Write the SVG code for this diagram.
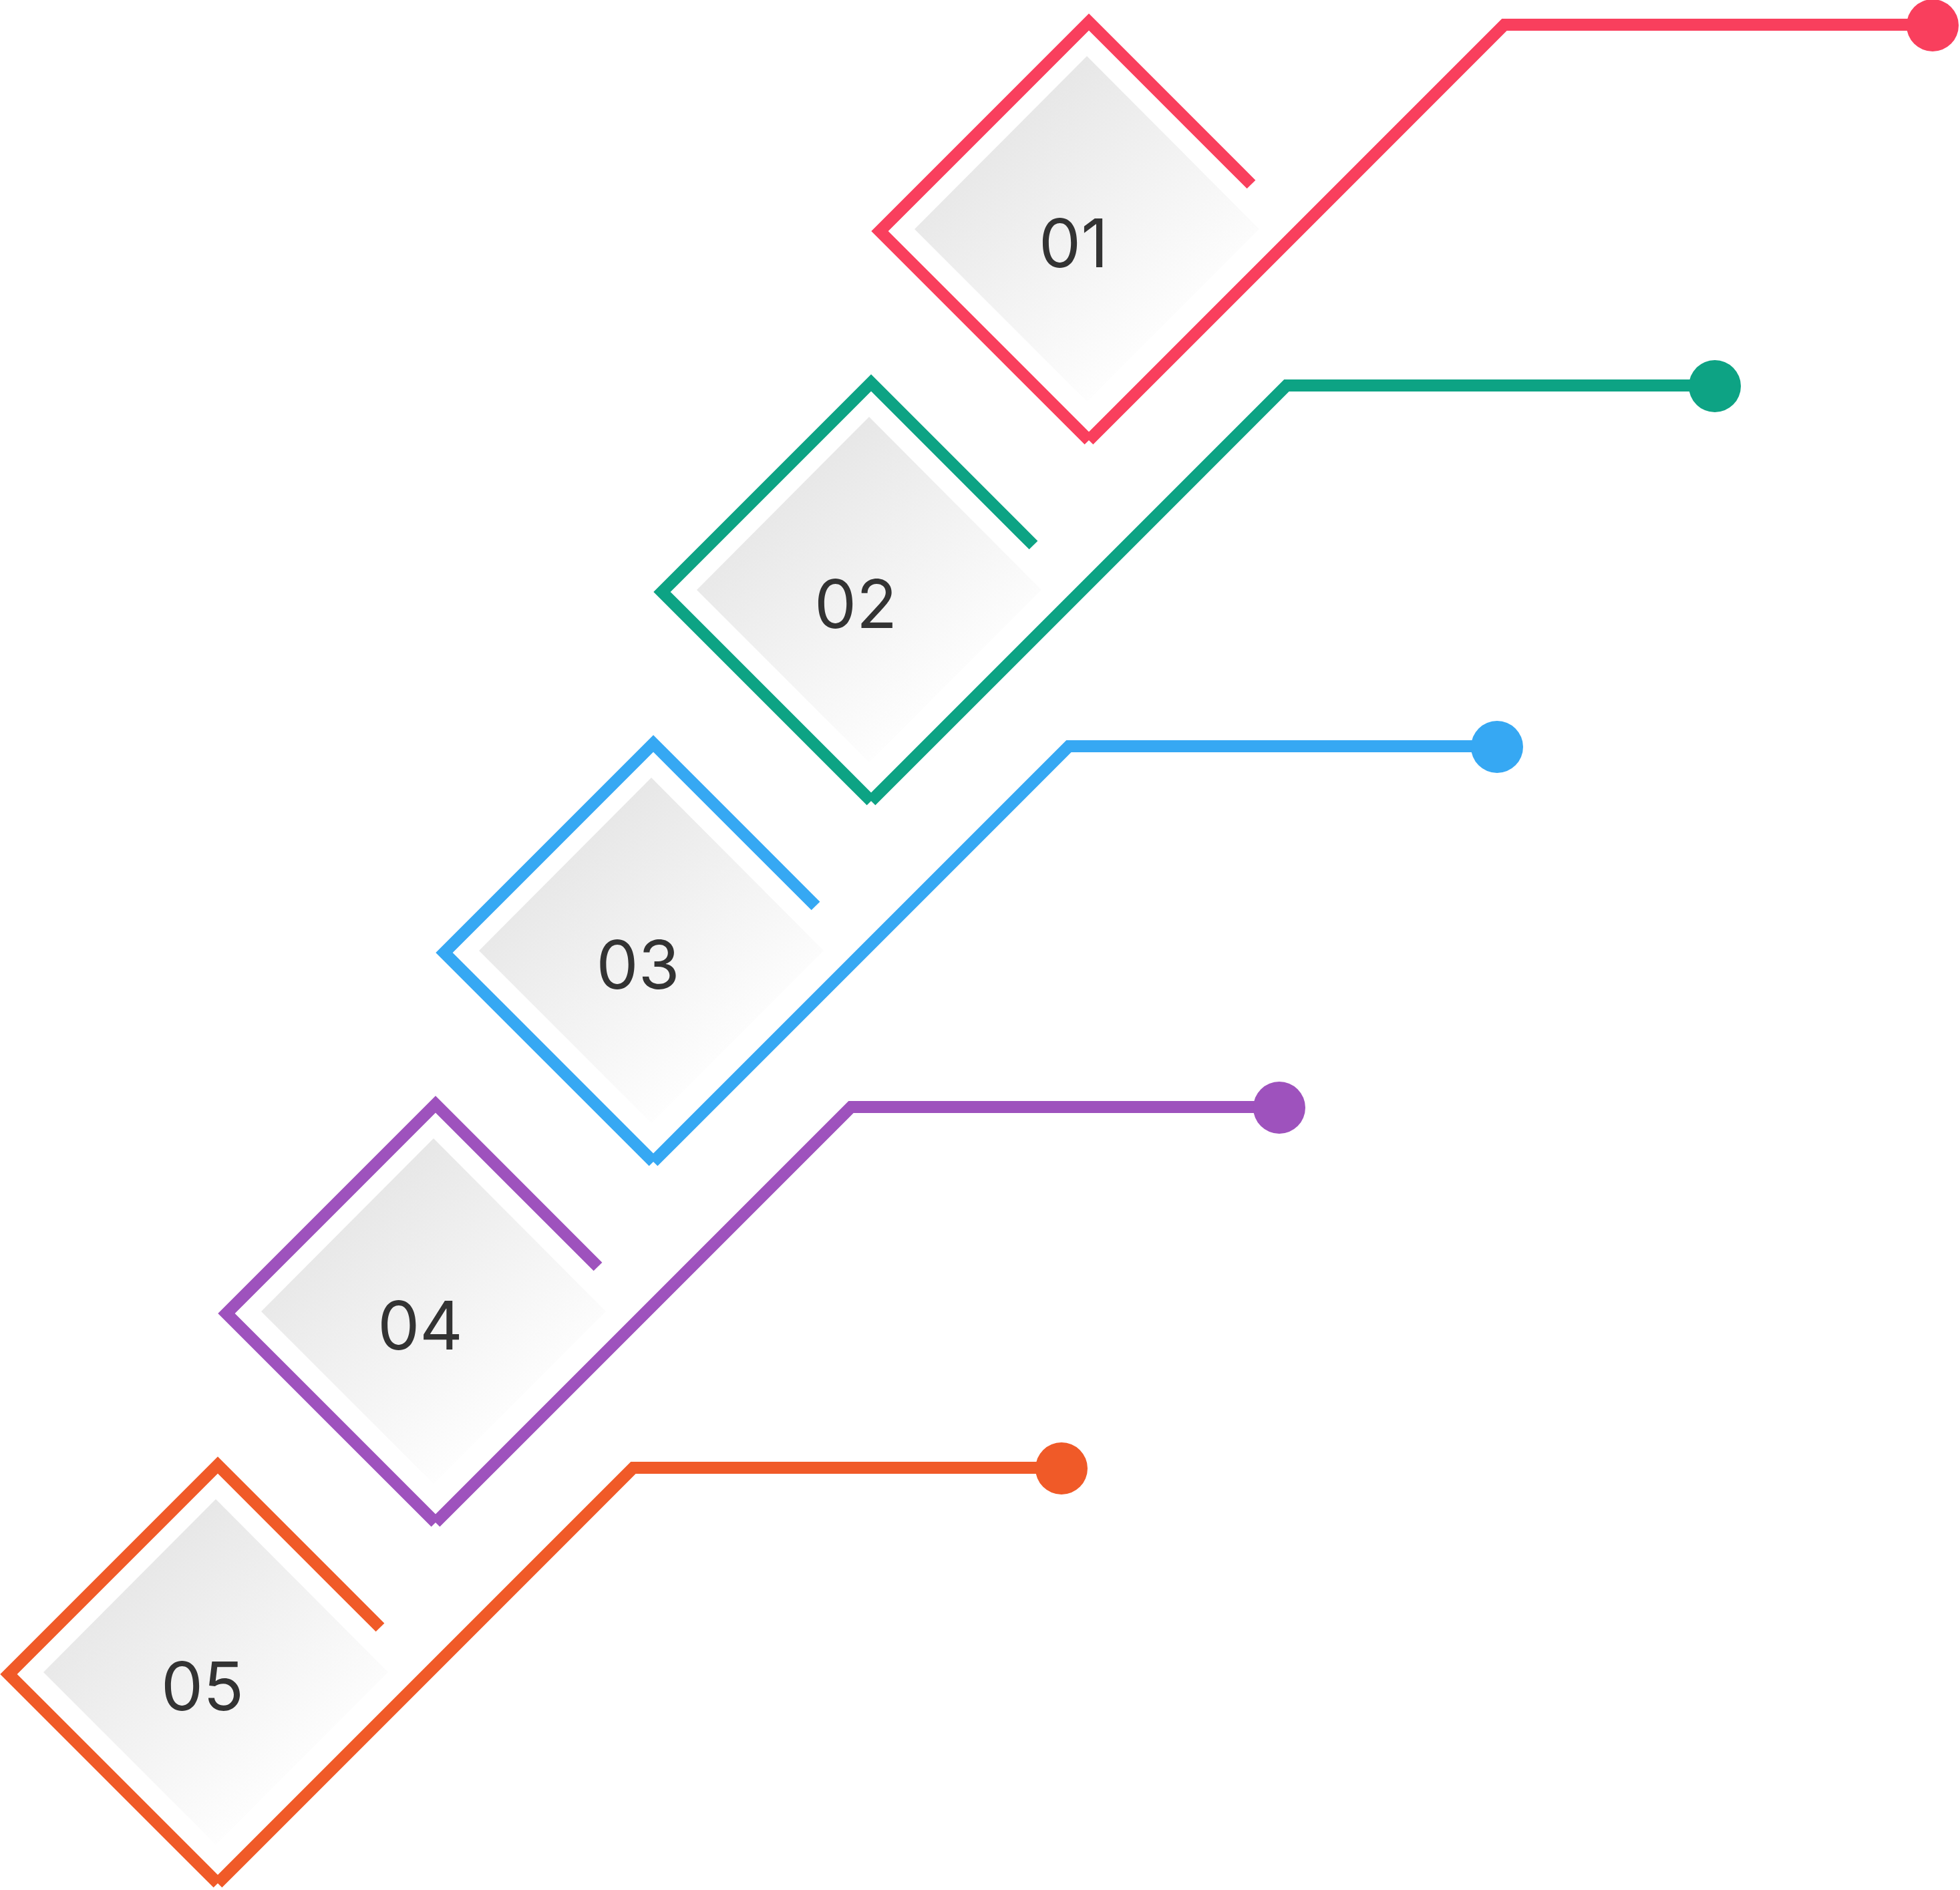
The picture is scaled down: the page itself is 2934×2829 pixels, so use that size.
<svg xmlns="http://www.w3.org/2000/svg" width="2934" height="2829" viewBox="0 0 2934 2829">
<defs>
<linearGradient id="g" x1="0.2" y1="0.2" x2="0.75" y2="0.85">
<stop offset="0" stop-color="#e6e6e6"/><stop offset="1" stop-color="#ffffff"/>
</linearGradient>
<style>
.s{fill:none;stroke-width:18;stroke-linejoin:miter;stroke-miterlimit:10}
.t{font-family:Inter,"Liberation Sans",sans-serif;font-size:100px;fill:#333;text-anchor:middle}
</style>
</defs>
<rect width="2934" height="2829" fill="#fff"/>
<g id="node01" transform="translate(0,0)">
<polygon points="1627,84 1885,343 1627,601 1369,343" fill="url(#g)"/>
<path class="s" stroke="#F93F5D" d="M1873,276 L1630,33 L1317,346 L1630,659"/>
<text class="t" x="1607" y="400">01</text>
</g>
<g id="node02" transform="translate(-326,540)">
<polygon points="1627,84 1885,343 1627,601 1369,343" fill="url(#g)"/>
<path class="s" stroke="#0DA384" d="M1873,276 L1630,33 L1317,346 L1630,659"/>
<text class="t" x="1607" y="400">02</text>
</g>
<g id="node03" transform="translate(-652,1080)">
<polygon points="1627,84 1885,343 1627,601 1369,343" fill="url(#g)"/>
<path class="s" stroke="#36A8F3" d="M1873,276 L1630,33 L1317,346 L1630,659"/>
<text class="t" x="1607" y="400">03</text>
</g>
<g id="node04" transform="translate(-978,1620)">
<polygon points="1627,84 1885,343 1627,601 1369,343" fill="url(#g)"/>
<path class="s" stroke="#9E52BD" d="M1873,276 L1630,33 L1317,346 L1630,659"/>
<text class="t" x="1607" y="400">04</text>
</g>
<g id="node05" transform="translate(-1304,2160)">
<polygon points="1627,84 1885,343 1627,601 1369,343" fill="url(#g)"/>
<path class="s" stroke="#F05A28" d="M1873,276 L1630,33 L1317,346 L1630,659"/>
<text class="t" x="1607" y="400">05</text>
</g>
<g id="connectors">
<g transform="translate(0,0)"><path class="s" stroke="#F93F5D" d="M1630,659 L2252,37 L2893,37"/><circle cx="2893" cy="38" r="39" fill="#F93F5D"/></g>
<g transform="translate(-326,540)"><path class="s" stroke="#0DA384" d="M1630,659 L2252,37 L2893,37"/><circle cx="2893" cy="38" r="39" fill="#0DA384"/></g>
<g transform="translate(-652,1080)"><path class="s" stroke="#36A8F3" d="M1630,659 L2252,37 L2893,37"/><circle cx="2893" cy="38" r="39" fill="#36A8F3"/></g>
<g transform="translate(-978,1620)"><path class="s" stroke="#9E52BD" d="M1630,659 L2252,37 L2893,37"/><circle cx="2893" cy="38" r="39" fill="#9E52BD"/></g>
<g transform="translate(-1304,2160)"><path class="s" stroke="#F05A28" d="M1630,659 L2252,37 L2893,37"/><circle cx="2893" cy="38" r="39" fill="#F05A28"/></g>
</g>
</svg>
